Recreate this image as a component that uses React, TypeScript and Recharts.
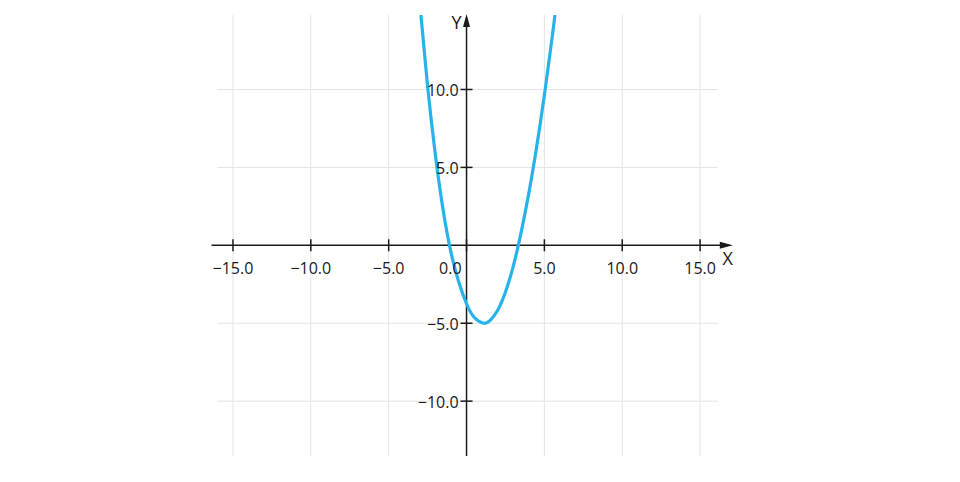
import { Line, LineChart, ReferenceDot, ReferenceLine, XAxis, YAxis } from "recharts";

// points
const curveX = [-2.93, -2.5, -2, -1.5, -1, -0.5, 0, 0.5, 1.1, 1.5, 2, 2.5, 3, 3.5, 4, 4.5, 5, 5.5, 5.68];
const curveY = [14.78, 10.2, 5.8, 2.25, -0.45, -2.35, -3.75, -4.63, -5, -4.84, -4.17, -3.0, -1.35, 0.8, 3.35, 6.3, 9.65, 13.35, 14.78];

const xTicks = [-15, -10, -5, 0, 5, 10, 15];
const yTicks = [-10, -5, 5, 10];
const xDomain = [-16, 16.15];
const yDomain = [-13.52, 14.78];

const data = curveX.map((x, i) => ({ x, y: curveY[i] }));

const FONT = "'Open Sans', sans-serif";
const AXIS = "#1a1a1a";
const GRID = "#e4e4e4";

const fmt = (v: number) => (v < 0 ? "\u2212" + Math.abs(v).toFixed(1) : v.toFixed(1));

function XAxisShape(p: any) {
  const x1 = Math.min(p.x1, p.x2);
  const x2 = Math.max(p.x1, p.x2);
  const y = p.y1;
  return (
    <g>
      <line x1={x1} y1={y} x2={x2 - 4} y2={y} stroke={AXIS} strokeWidth={1.5} />
      <polygon points={`${x2},${y} ${x2 - 13},${y - 3.5} ${x2 - 13},${y + 3.5}`} fill={AXIS} />
      <text x={x2 - 5} y={y + 20} textAnchor="middle" fontFamily={FONT} fontSize={18} fill={AXIS}>
        X
      </text>
    </g>
  );
}

function YAxisShape(p: any) {
  const top = Math.min(p.y1, p.y2);
  const bottom = Math.max(p.y1, p.y2);
  const x = p.x1;
  return (
    <g>
      <line x1={x} y1={bottom} x2={x} y2={top + 4} stroke={AXIS} strokeWidth={1.5} />
      <polygon points={`${x},${top} ${x - 3.5},${top + 13} ${x + 3.5},${top + 13}`} fill={AXIS} />
      <text x={x - 10} y={top + 15} textAnchor="middle" fontFamily={FONT} fontSize={18} fill={AXIS}>
        Y
      </text>
    </g>
  );
}

function XTick(v: number) {
  return (p: any) => (
    <g>
      <line x1={p.cx} y1={p.cy - 6} x2={p.cx} y2={p.cy + 6} stroke={AXIS} strokeWidth={1.5} />
      <text
        x={v === 0 ? p.cx - 5 : p.cx}
        y={p.cy + 28.5}
        textAnchor={v === 0 ? "end" : "middle"}
        fontFamily={FONT}
        fontSize={16}
        fill={AXIS}
      >
        {fmt(v)}
      </text>
    </g>
  );
}

function YTick(v: number) {
  return (p: any) => (
    <g>
      <line x1={p.cx - 6} y1={p.cy} x2={p.cx + 6} y2={p.cy} stroke={AXIS} strokeWidth={1.5} />
      <text x={p.cx - 8} y={p.cy + 7} textAnchor="end" fontFamily={FONT} fontSize={16} fill={AXIS}>
        {fmt(v)}
      </text>
    </g>
  );
}

export default function App() {
  return (
    <LineChart width={944} height={466} data={data} margin={{ top: 7, right: 234, bottom: 18, left: 209.4 }}>
      <XAxis type="number" dataKey="x" domain={xDomain} ticks={xTicks} allowDataOverflow hide />
      <YAxis type="number" domain={yDomain} ticks={[-10, -5, 0, 5, 10]} allowDataOverflow hide />
      {xTicks
        .filter((t) => t !== 0)
        .map((t) => (
          <ReferenceLine key={"gx" + t} x={t} stroke={GRID} strokeWidth={1} />
        ))}
      {yTicks.map((t) => (
        <ReferenceLine key={"gy" + t} y={t} stroke={GRID} strokeWidth={1} />
      ))}
      <ReferenceLine
        segment={[{ x: -16.38, y: 0 }, { x: 17.1, y: 0 }]}
        ifOverflow="visible"
        shape={XAxisShape}
      />
      <ReferenceLine
        segment={[{ x: 0, y: -13.52 }, { x: 0, y: 14.85 }]}
        ifOverflow="visible"
        shape={YAxisShape}
      />
      {xTicks.map((t) => (
        <ReferenceDot key={"x" + t} x={t} y={0} ifOverflow="visible" shape={XTick(t)} />
      ))}
      {yTicks.map((t) => (
        <ReferenceDot key={"y" + t} x={0} y={t} ifOverflow="visible" shape={YTick(t)} />
      ))}
      <Line
        type="natural"
        dataKey="y"
        stroke="#27b2ea"
        strokeWidth={3.2}
        dot={false}
        isAnimationActive={false}
      />
    </LineChart>
  );
}
